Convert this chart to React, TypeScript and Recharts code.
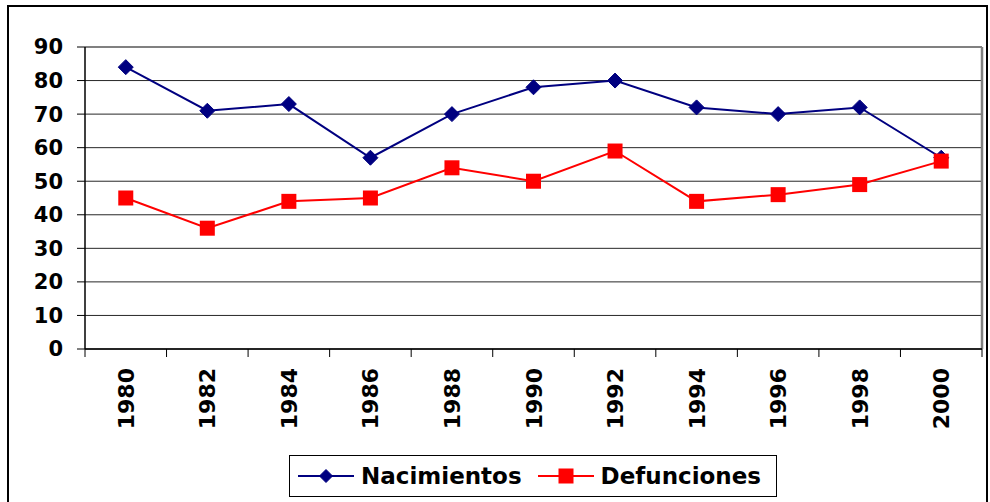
import React from 'react';
import { LineChart, Line, XAxis, YAxis, CartesianGrid, Legend, ReferenceLine } from 'recharts';

const years = [1980, 1982, 1984, 1986, 1988, 1990, 1992, 1994, 1996, 1998, 2000];
const nacimientos = [84, 71, 73, 57, 70, 78, 80, 72, 70, 72, 57];
const defunciones = [45, 36, 44, 45, 54, 50, 59, 44, 46, 49, 56];
const yTicks = [0, 10, 20, 30, 40, 50, 60, 70, 80, 90];

const FONT = '"DejaVu Sans", Verdana, sans-serif';
const BLUE = '#000080';
const RED = '#FF0000';

const data = years.map((year, i) => ({
  year,
  nacimientos: nacimientos[i],
  defunciones: defunciones[i],
}));

// category boundaries (tick marks) plus category centres (labels)
const boundaries = [...years.map((y) => y - 1), years[years.length - 1] + 1];
const xTicks = [...boundaries, ...years].sort((a, b) => a - b);

const Diamond = ({ cx, cy, r = 7.5, color }: any) => (
  <polygon
    points={`${cx},${cy - r} ${cx + r},${cy} ${cx},${cy + r} ${cx - r},${cy}`}
    fill={color}
    stroke={color}
  />
);

const Square = ({ cx, cy, s = 15, color }: any) => (
  <rect x={cx - s / 2} y={cy - s / 2} width={s} height={s} fill={color} />
);

const XTick = ({ x, y, payload }: any) => {
  const v = payload.value;
  if (years.indexOf(v) === -1) {
    return <line x1={x} y1={y - 8} x2={x} y2={y} stroke="#000" strokeWidth={1} />;
  }
  return (
    <text
      x={x + 8}
      y={y + 11}
      transform={`rotate(-90, ${x + 8}, ${y + 11})`}
      textAnchor="end"
      fontFamily={FONT}
      fontWeight="bold"
      fontSize={22}
      fill="#000"
    >
      {v}
    </text>
  );
};

const LegendBox = () => (
  <div
    style={{
      width: 488,
      height: 42,
      boxSizing: 'border-box',
      border: '1px solid #000',
      background: '#fff',
      display: 'flex',
      alignItems: 'center',
      fontFamily: FONT,
      fontWeight: 'bold',
      fontSize: 23,
      color: '#000',
      paddingLeft: 8,
    }}
  >
    <svg width={56} height={20}>
      <line x1={0} y1={10} x2={56} y2={10} stroke={BLUE} strokeWidth={2} />
      <Diamond cx={28} cy={10} r={6.5} color={BLUE} />
    </svg>
    <span style={{ marginLeft: 7 }}>Nacimientos</span>
    <svg width={56} height={20} style={{ marginLeft: 16 }}>
      <line x1={0} y1={10} x2={56} y2={10} stroke={RED} strokeWidth={2} />
      <Square cx={28} cy={10} s={15} color={RED} />
    </svg>
    <span style={{ marginLeft: 7 }}>Defunciones</span>
  </div>
);

export default function App() {
  return (
    <div style={{ position: 'absolute', left: 0, top: 0, width: 990, height: 502, background: '#fff', overflow: 'hidden' }}>
      <div
        style={{
          position: 'absolute',
          left: 7,
          top: 5,
          width: 981,
          height: 520,
          boxSizing: 'border-box',
          border: '2px solid #000',
        }}
      />
      <LineChart width={990} height={502} data={data} margin={{ top: 47, right: 8, bottom: 0, left: 0 }}>
        <CartesianGrid horizontal vertical={false} stroke="#000" strokeOpacity={0.85} />
        <XAxis
          dataKey="year"
          type="number"
          domain={[1979, 2001]}
          ticks={xTicks}
          interval={0}
          height={153}
          tickLine={false}
          tickSize={8}
          tickMargin={0}
          axisLine={{ stroke: '#000', strokeWidth: 1.5 }}
          tick={<XTick />}
        />
        <YAxis
          type="number"
          domain={[0, 90]}
          ticks={yTicks}
          interval={0}
          width={85}
          tickSize={8}
          tickMargin={14}
          tickLine={{ stroke: '#000' }}
          axisLine={{ stroke: '#000', strokeWidth: 1.5 }}
          tick={{ fill: '#000', fontFamily: FONT, fontWeight: 'bold', fontSize: 21 }}
        />
        <ReferenceLine y={90} stroke="#808080" strokeWidth={2} />
        <ReferenceLine x={2001} stroke="#808080" strokeWidth={2.5} />
        <Line
          type="linear"
          dataKey="nacimientos"
          name="Nacimientos"
          stroke={BLUE}
          strokeWidth={2}
          isAnimationActive={false}
          dot={(p: any) => <Diamond key={`n-${p.index}`} cx={p.cx} cy={p.cy} color={BLUE} />}
          activeDot={false}
        />
        <Line
          type="linear"
          dataKey="defunciones"
          name="Defunciones"
          stroke={RED}
          strokeWidth={2}
          isAnimationActive={false}
          dot={(p: any) => <Square key={`d-${p.index}`} cx={p.cx} cy={p.cy} color={RED} />}
          activeDot={false}
        />
        <Legend
          layout="horizontal"
          verticalAlign="middle"
          align="center"
          content={() => <LegendBox />}
          wrapperStyle={{ left: 289, top: 455, width: 488, height: 42 }}
        />
      </LineChart>
    </div>
  );
}
